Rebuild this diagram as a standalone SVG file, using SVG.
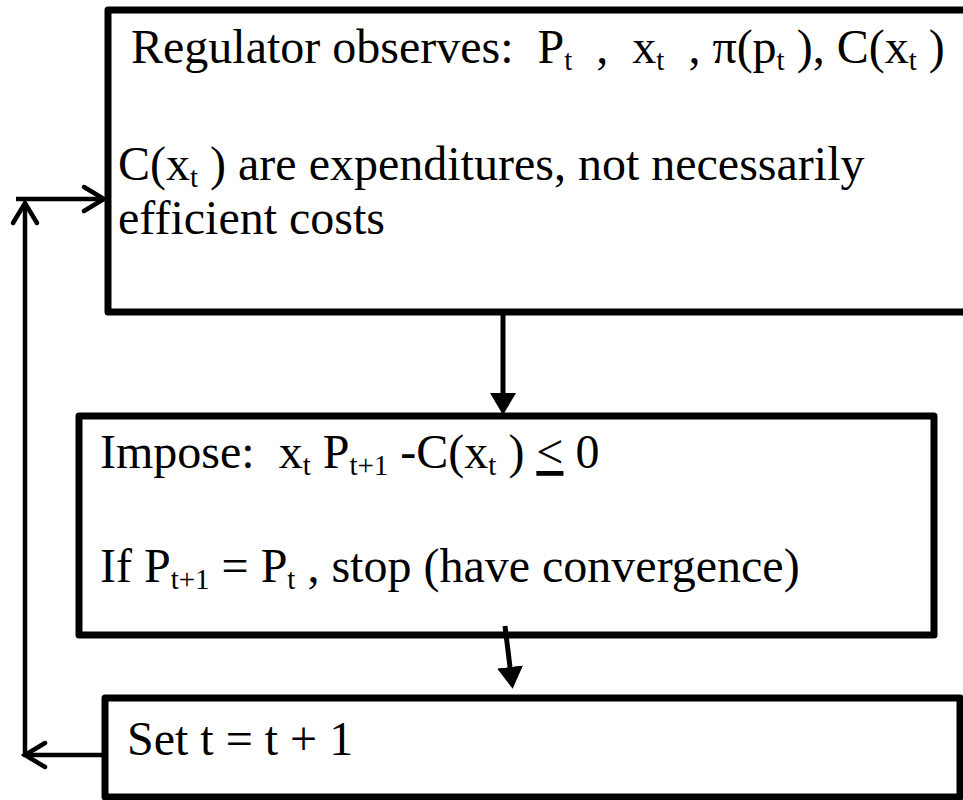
<svg xmlns="http://www.w3.org/2000/svg" width="963" height="800" viewBox="0 0 963 800">
<style>
.box{fill:#fff;stroke:#000;stroke-width:7;stroke-linejoin:round}
text{font-family:'Liberation Serif','Times New Roman',serif;font-size:48px;fill:#000;white-space:pre}
.s{font-size:29px}
.conn{stroke:#000;fill:none}
.thick{stroke-width:5}
.thin{stroke-width:4.5}
</style>
<defs>
<marker id="tri" markerUnits="userSpaceOnUse" markerWidth="26" markerHeight="26" refX="0" refY="13" orient="auto" viewBox="0 0 26 26">
<path d="M0,0 L22,13 L0,26 z" fill="#000"/>
</marker>
<marker id="chev" markerUnits="userSpaceOnUse" markerWidth="28" markerHeight="32" refX="20" refY="12" orient="auto" viewBox="-4 -4 28 32" overflow="visible">
<path d="M0,0 L20,12 L0,24" fill="none" stroke="#000" stroke-width="4.5" stroke-linecap="round" stroke-linejoin="miter"/>
</marker>
</defs>
<g id="node-observe">
<rect class="box" x="108" y="10" width="900" height="302"/>
<text x="131" y="63">Regulator observes:  P<tspan class="s" dy="7">t</tspan><tspan dy="-7">  ,  x</tspan><tspan class="s" dy="7">t</tspan><tspan dy="-7">  , π(p</tspan><tspan class="s" dy="7">t</tspan><tspan dy="-7"> ), C(x</tspan><tspan class="s" dy="7">t</tspan><tspan dy="-7"> )</tspan></text>
<text x="118" y="180">C(x<tspan class="s" dy="7">t</tspan><tspan dy="-7"> ) are expenditures, not necessarily</tspan></text>
<text x="118" y="234">efficient costs</text>
</g>
<g id="node-impose">
<rect class="box" x="79" y="416" width="855" height="219"/>
<text x="100" y="468">Impose:  x<tspan class="s" dy="7">t</tspan><tspan dy="-7"> P</tspan><tspan class="s" dy="7">t+1</tspan><tspan dy="-7"> -C(x</tspan><tspan class="s" dy="7">t</tspan><tspan dy="-7"> ) </tspan><tspan text-decoration="underline">&lt;</tspan> 0</text>
<text x="100" y="582">If P<tspan class="s" dy="7">t+1</tspan><tspan dy="-7"> = P</tspan><tspan class="s" dy="7">t</tspan><tspan dy="-7"> , stop (have convergence)</tspan></text>
</g>
<g id="node-set">
<rect class="box" x="105" y="698" width="855" height="99"/>
<text x="127" y="755">Set t = t + 1</text>
</g>
<g id="connectors">
<line class="conn thick" x1="503" y1="315" x2="503" y2="393" marker-end="url(#tri)"/>
<line class="conn thick" x1="505" y1="626" x2="510" y2="667" marker-end="url(#tri)"/>
<line class="conn thin" x1="105" y1="755" x2="25" y2="755" marker-end="url(#chev)"/>
<line class="conn thin" x1="25" y1="757" x2="25" y2="203" marker-end="url(#chev)"/>
<line class="conn thin" x1="16" y1="199" x2="104" y2="199" marker-end="url(#chev)"/>
</g>
</svg>
